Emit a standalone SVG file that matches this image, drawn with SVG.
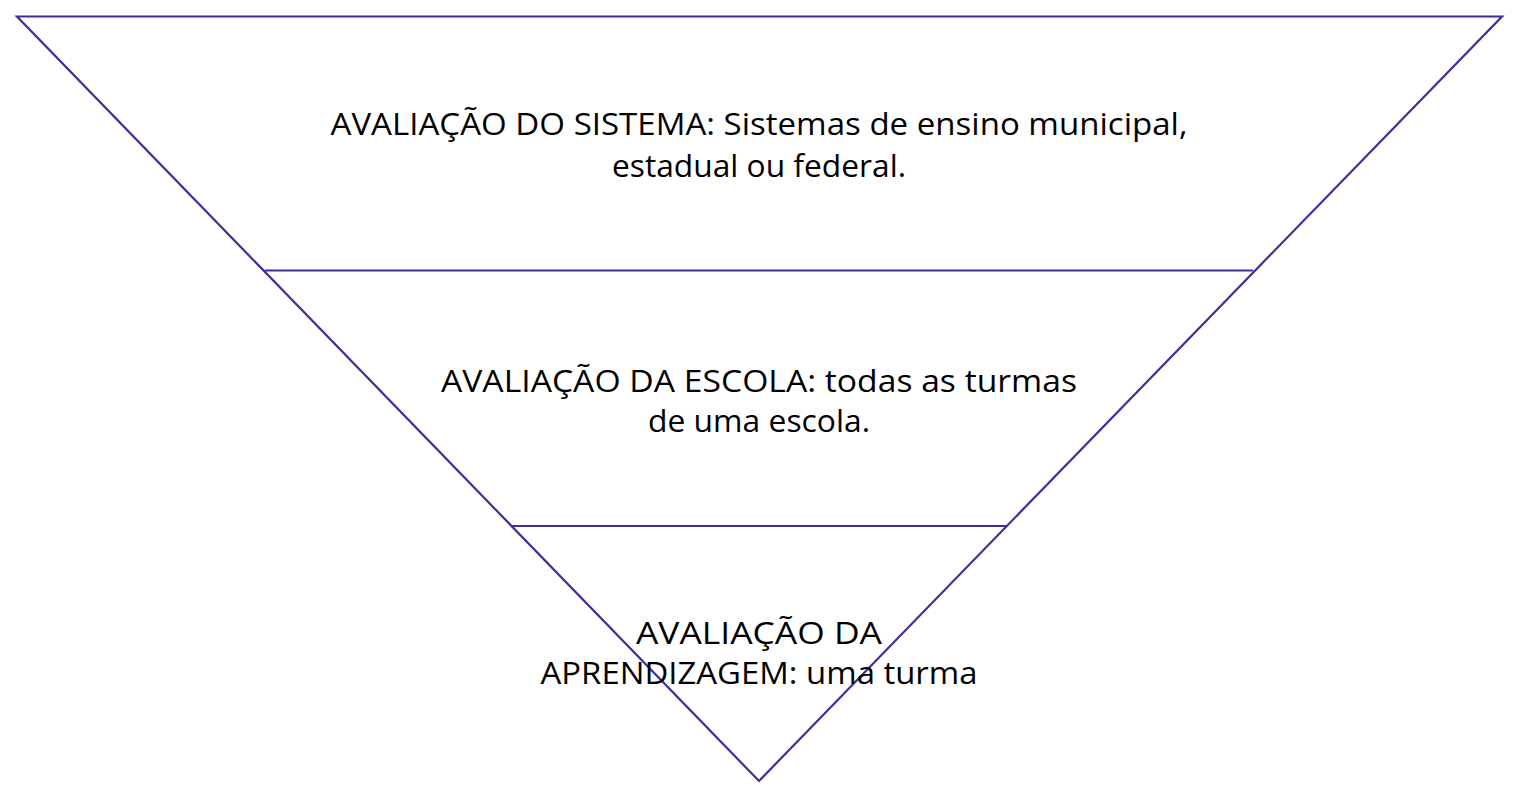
<svg xmlns="http://www.w3.org/2000/svg" width="1519" height="795" viewBox="0 0 1519 795">
<style>
.ln{stroke:#3d2f9c;stroke-width:2.2;fill:none;stroke-linecap:butt;stroke-linejoin:miter}
.t{font-family:"Open Sans","Noto Sans",sans-serif;font-size:31.5px;font-weight:500;fill:#000;text-anchor:middle}
</style>
<rect width="1519" height="795" fill="#fff"/>
<g id="connectors">
<polygon class="ln" points="17,16.5 1502,16.5 759,781"/>
<line class="ln" x1="265" y1="270.5" x2="1253" y2="270.5"/>
<line class="ln" x1="512" y1="526" x2="1006" y2="526"/>
</g>
<g id="node-sistema">
<text class="t" x="759" y="135" textLength="857" lengthAdjust="spacingAndGlyphs">AVALIAÇÃO DO SISTEMA: Sistemas de ensino municipal,</text>
<text class="t" x="759" y="177" textLength="294" lengthAdjust="spacingAndGlyphs">estadual ou federal.</text>
</g>
<g id="node-escola">
<text class="t" x="759" y="392" textLength="636" lengthAdjust="spacingAndGlyphs">AVALIAÇÃO DA ESCOLA: todas as turmas</text>
<text class="t" x="759" y="432" textLength="222" lengthAdjust="spacingAndGlyphs">de uma escola.</text>
</g>
<g id="node-aprendizagem">
<text class="t" x="759" y="644" textLength="246" lengthAdjust="spacingAndGlyphs">AVALIAÇÃO DA</text>
<text class="t" x="759" y="684" textLength="437" lengthAdjust="spacingAndGlyphs">APRENDIZAGEM: uma turma</text>
</g>
</svg>
